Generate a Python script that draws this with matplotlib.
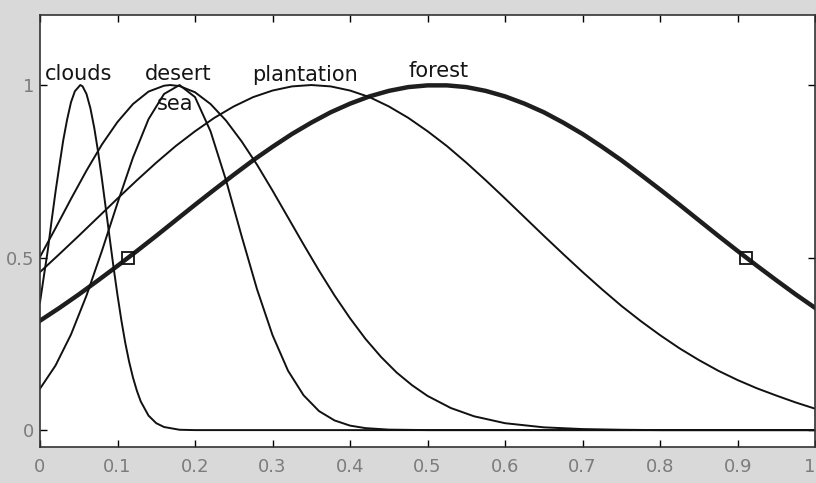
import matplotlib
matplotlib.use("Agg")
import matplotlib.pyplot as plt

# membership curves
clouds_x = [0.0, 0.005, 0.01, 0.015, 0.02, 0.025, 0.03, 0.035, 0.04, 0.045, 0.052,
            0.055, 0.06, 0.065, 0.07, 0.075, 0.08, 0.085, 0.09, 0.095, 0.10, 0.105,
            0.11, 0.115, 0.12, 0.125, 0.13, 0.14, 0.15, 0.16, 0.18, 0.20, 1.0]
clouds_y = [0.37, 0.446, 0.52, 0.607, 0.69, 0.766, 0.84, 0.90, 0.95, 0.982, 1.0,
            0.996, 0.974, 0.933, 0.876, 0.806, 0.726, 0.641, 0.555, 0.47, 0.391, 0.318,
            0.253, 0.198, 0.152, 0.114, 0.083, 0.042, 0.02, 0.009, 0.001, 0.0, 0.0]

desert_x = [0.0, 0.02, 0.04, 0.06, 0.08, 0.10, 0.12, 0.14, 0.16, 0.168, 0.18, 0.20,
            0.22, 0.24, 0.26, 0.28, 0.30, 0.32, 0.34, 0.36, 0.38, 0.40, 0.42, 0.44,
            0.46, 0.48, 0.50, 0.53, 0.56, 0.60, 0.65, 0.70, 0.75, 0.80, 1.0]
desert_y = [0.502, 0.585, 0.670, 0.752, 0.828, 0.893, 0.945, 0.981, 0.998, 1.0, 0.997,
            0.979, 0.945, 0.897, 0.837, 0.769, 0.694, 0.616, 0.538, 0.462, 0.390, 0.324,
            0.264, 0.212, 0.167, 0.130, 0.099, 0.064, 0.040, 0.020, 0.008, 0.003, 0.001,
            0.0, 0.0]

sea_x = [0.0, 0.02, 0.04, 0.06, 0.08, 0.10, 0.12, 0.14, 0.16, 0.18, 0.20, 0.22,
         0.24, 0.26, 0.28, 0.30, 0.32, 0.34, 0.36, 0.38, 0.40, 0.42, 0.45, 0.50, 1.0]
sea_y = [0.12, 0.187, 0.277, 0.390, 0.520, 0.658, 0.790, 0.901, 0.974, 1.0, 0.965, 0.866,
         0.724, 0.563, 0.408, 0.275, 0.172, 0.101, 0.055, 0.028, 0.013, 0.0057, 0.0014,
         0.0, 0.0]

plantation_x = [0.0, 0.025, 0.05, 0.075, 0.10, 0.125, 0.15, 0.175, 0.20, 0.225, 0.25,
                0.275, 0.30, 0.325, 0.35, 0.375, 0.40, 0.425, 0.45, 0.475, 0.50, 0.525,
                0.55, 0.575, 0.60, 0.625, 0.65, 0.675, 0.70, 0.725, 0.75, 0.775, 0.80,
                0.825, 0.85, 0.875, 0.90, 0.925, 0.95, 0.975, 1.0]
plantation_y = [0.458, 0.510, 0.563, 0.617, 0.671, 0.724, 0.775, 0.823, 0.866, 0.905,
                0.938, 0.965, 0.984, 0.996, 1.0, 0.996, 0.984, 0.965, 0.938, 0.905,
                0.866, 0.823, 0.775, 0.724, 0.671, 0.617, 0.563, 0.510, 0.458, 0.408,
                0.360, 0.316, 0.275, 0.237, 0.203, 0.172, 0.145, 0.121, 0.100, 0.080,
                0.062]

forest_x = [0.0, 0.025, 0.05, 0.075, 0.10, 0.125, 0.15, 0.175, 0.20, 0.225, 0.25,
            0.275, 0.30, 0.325, 0.35, 0.375, 0.40, 0.425, 0.45, 0.475, 0.50, 0.525,
            0.55, 0.575, 0.60, 0.625, 0.65, 0.675, 0.70, 0.725, 0.75, 0.775, 0.80,
            0.825, 0.85, 0.875, 0.90, 0.925, 0.95, 0.975, 1.0]
forest_y = [0.317, 0.354, 0.393, 0.434, 0.476, 0.519, 0.563, 0.608, 0.653, 0.697, 0.740,
            0.782, 0.821, 0.858, 0.891, 0.921, 0.946, 0.967, 0.983, 0.994, 0.999, 0.999,
            0.994, 0.983, 0.967, 0.946, 0.921, 0.891, 0.858, 0.821, 0.782, 0.740, 0.697,
            0.653, 0.608, 0.563, 0.519, 0.476, 0.434, 0.393, 0.354]

marker_x = [0.114, 0.911]
marker_y = [0.5, 0.5]

labels = ["clouds", "desert", "sea", "plantation", "forest"]
label_x = [0.05, 0.178, 0.174, 0.342, 0.514]
label_y = [1.014, 1.014, 0.928, 1.012, 1.023]

x_ticks = [0, 0.1, 0.2, 0.3, 0.4, 0.5, 0.6, 0.7, 0.8, 0.9, 1]
x_tick_labels = ["0", "0.1", "0.2", "0.3", "0.4", "0.5", "0.6", "0.7", "0.8", "0.9", "1"]
y_ticks = [0, 0.5, 1]
y_tick_labels = ["0", "0.5", "1"]

fig = plt.figure(figsize=(8.16, 4.83), dpi=100, facecolor="#d9d9d9")
ax = fig.add_axes([0.049, 0.0745, 0.95, 0.8945])
ax.set_facecolor("white")

ax.plot(forest_x, forest_y, color="#1e1e1e", lw=3.2, solid_joinstyle="round")
for xs, ys in [(clouds_x, clouds_y), (desert_x, desert_y), (sea_x, sea_y),
               (plantation_x, plantation_y)]:
    ax.plot(xs, ys, color="#111111", lw=1.4, solid_joinstyle="round")
ax.plot(marker_x, marker_y, "s", mfc="none", mec="#111111", ms=8, mew=1.3)

for name, lx, ly in zip(labels, label_x, label_y):
    ax.text(lx, ly, name, ha="center", va="baseline", fontsize=15,
            color="#151515", family="DejaVu Sans")

ax.set_xlim(0, 1)
ax.set_ylim(-0.049, 1.203)
ax.set_xticks(x_ticks)
ax.set_xticklabels(x_tick_labels)
ax.set_yticks(y_ticks)
ax.set_yticklabels(y_tick_labels)
ax.tick_params(direction="in", length=5, width=1, top=True, right=True,
               labelsize=13, labelcolor="#7c7c7c")
ax.tick_params(axis="x", pad=8)
ax.tick_params(axis="y", pad=4)
ax.get_xticklabels()[-1].set_horizontalalignment("right")
for sp in ax.spines.values():
    sp.set_linewidth(1.2)
    sp.set_color("#333333")

fig.savefig("out.png", dpi=100, facecolor=fig.get_facecolor())
